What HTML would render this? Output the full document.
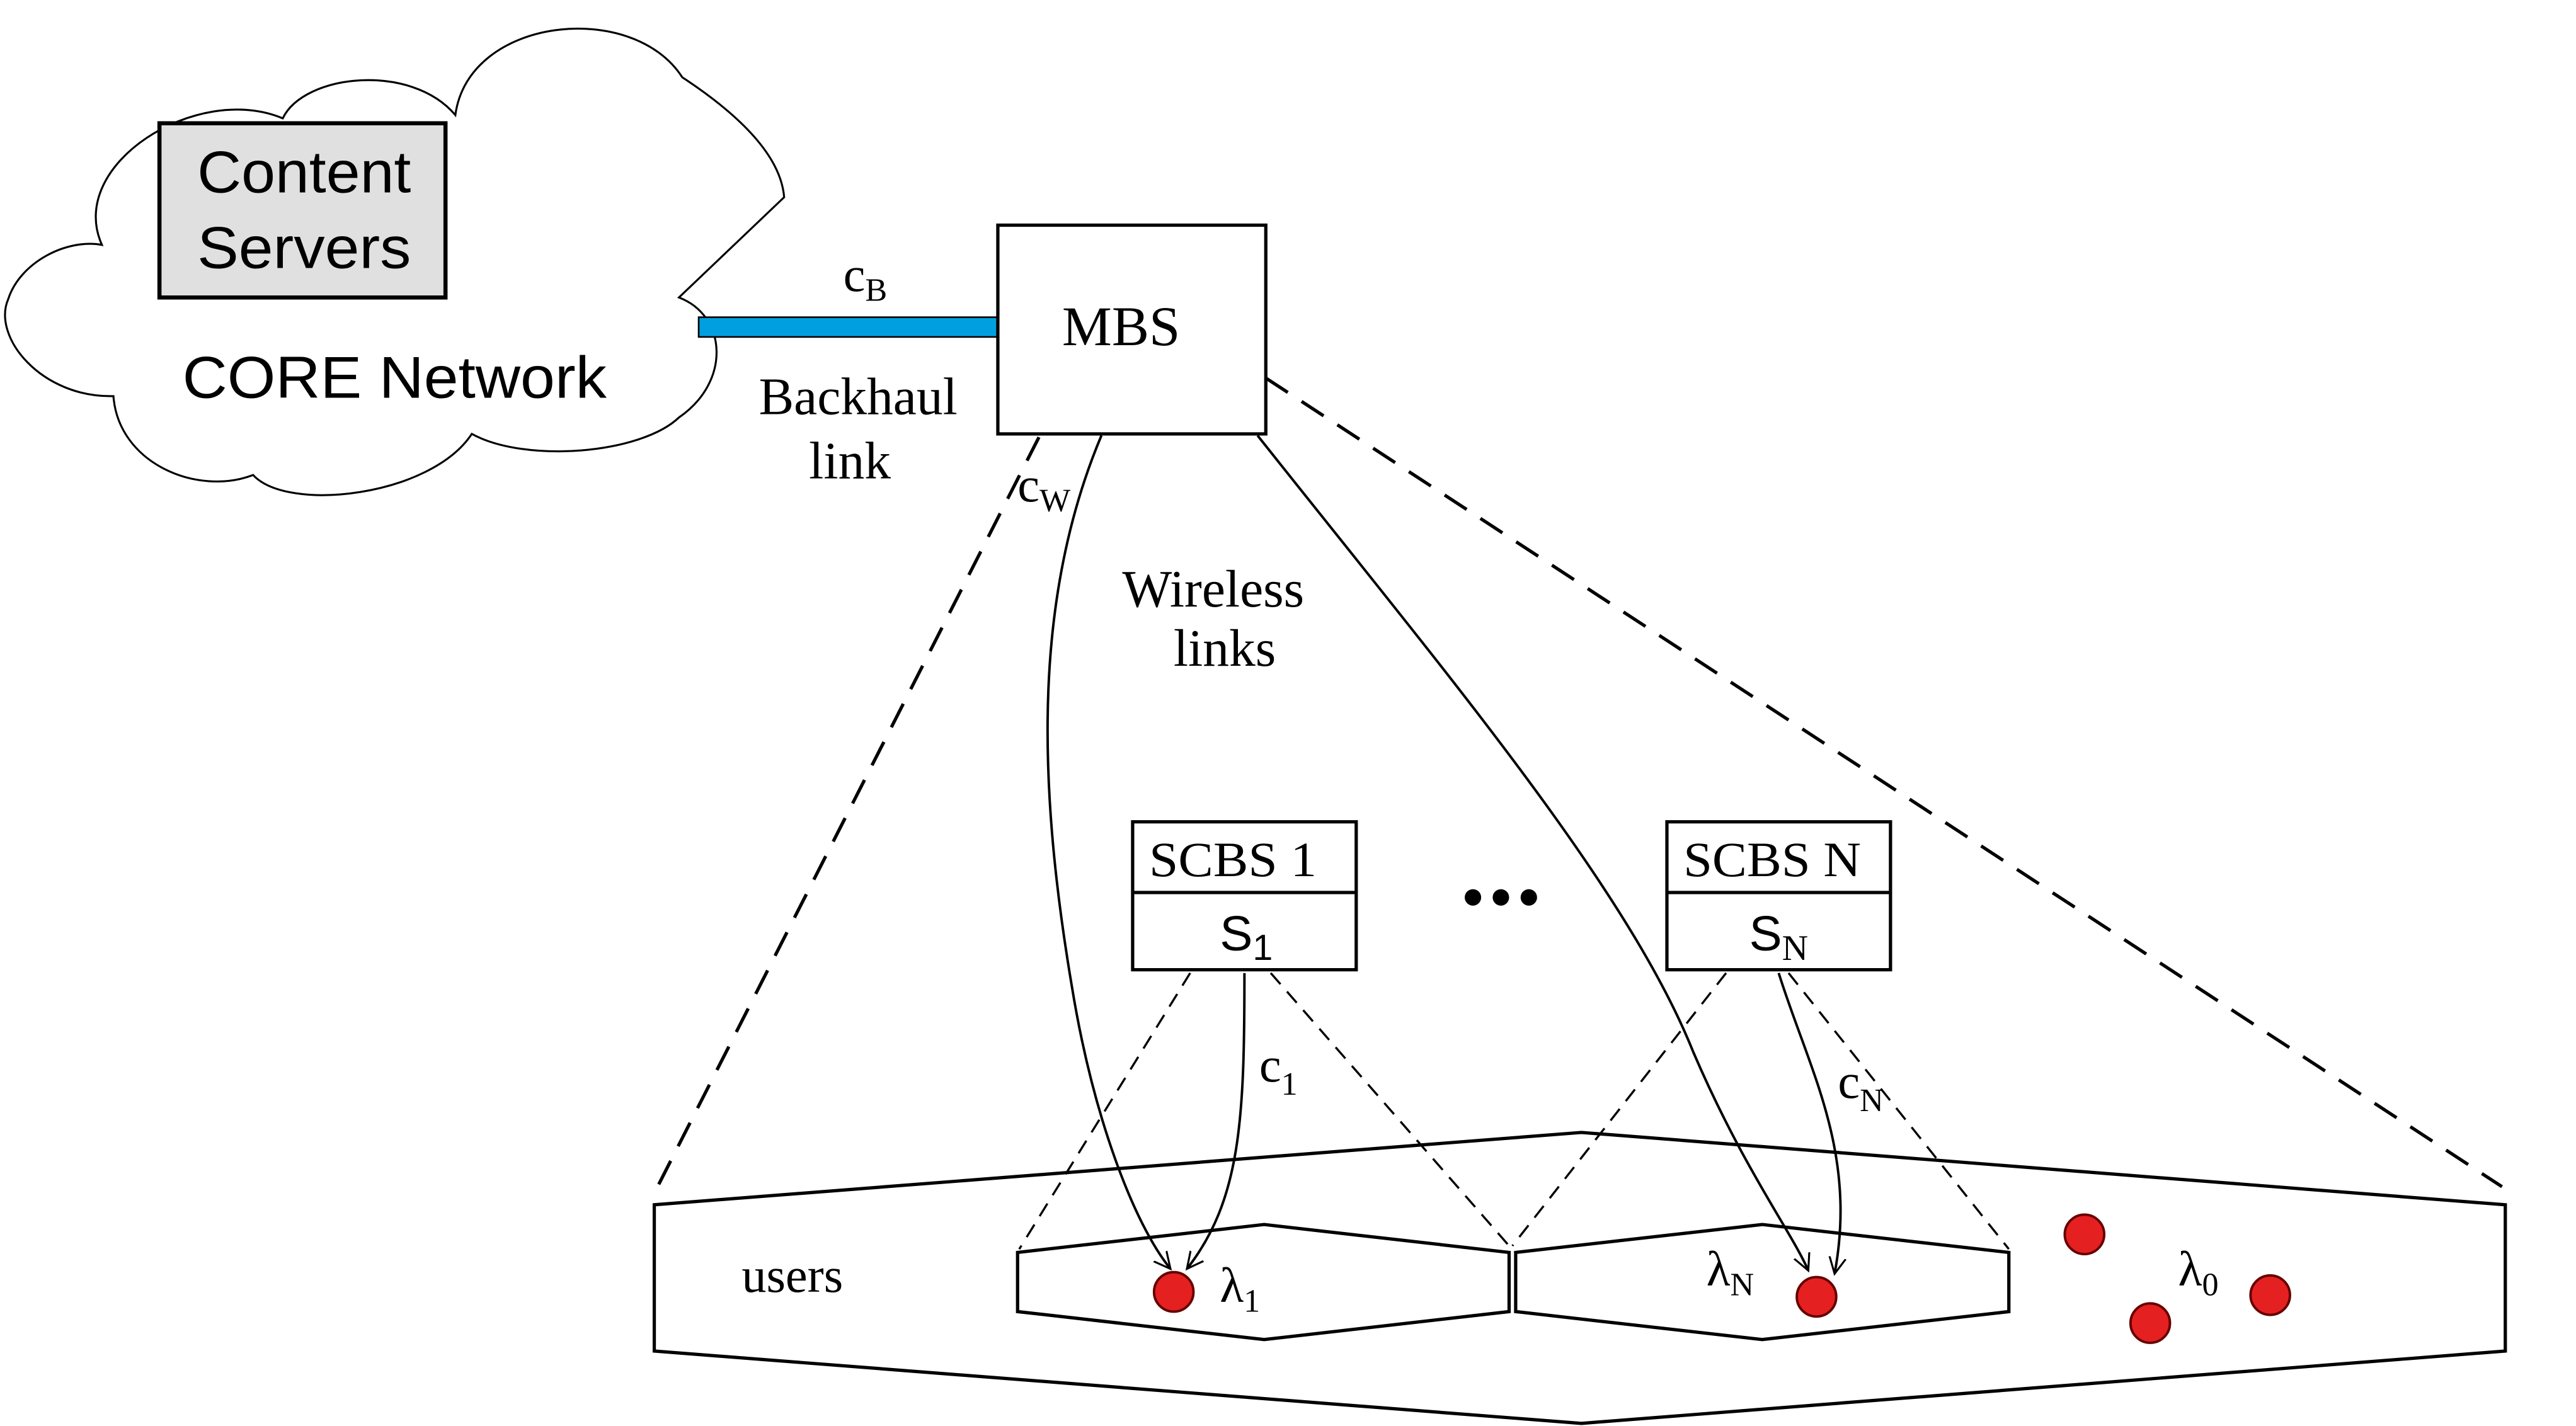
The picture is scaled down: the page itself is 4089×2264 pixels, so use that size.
<!DOCTYPE html>
<html><head><meta charset="utf-8"><style>
html,body{margin:0;padding:0;background:#fff;}
svg{display:block;}
.sans{font-family:"Liberation Sans",sans-serif;}
.serif{font-family:"Liberation Serif",serif;}
</style></head><body>
<svg width="4089" height="2264" viewBox="0 0 1567 867.6" preserveAspectRatio="none" xmlns="http://www.w3.org/2000/svg">
<defs>
<marker id="ah" markerWidth="12" markerHeight="12" refX="10" refY="6" orient="auto" markerUnits="userSpaceOnUse">
<path d="M0,1 L10,6 L0,11" fill="none" stroke="#000" stroke-width="1.2"/>
</marker>
</defs>
<rect width="1567" height="868" fill="#fff"/>
<!-- cloud -->
<path d="M62,149 C40,100 120,50 172,72 C185,45 250,38 277,70 C285,10 385,0 415,47 C450,70 475,95 477,120 L413,181 C442,192 445,232 413,254 C390,276 320,282 287,264 C262,302 175,312 154,289 C120,302 72,282 69,241 C25,242 -5,205 5,182 C12,160 40,145 62,149 Z" fill="#fff" stroke="#000" stroke-width="1.2"/>
<rect x="97" y="75" width="174" height="106" fill="#e0e0e0" stroke="#000" stroke-width="2.5"/>
<text class="sans" x="185" y="117" font-size="36" text-anchor="middle" textLength="130" lengthAdjust="spacingAndGlyphs">Content</text>
<text class="sans" x="185" y="163" font-size="36" text-anchor="middle" textLength="130" lengthAdjust="spacingAndGlyphs">Servers</text>
<text class="sans" x="240" y="242" font-size="36" text-anchor="middle" textLength="258" lengthAdjust="spacingAndGlyphs">CORE Network</text>
<!-- backhaul -->
<rect x="425" y="193" width="182" height="12" fill="#00a0e0" stroke="#000" stroke-width="1"/>
<text class="serif" x="513" y="177" font-size="30">c<tspan font-size="20" dy="6">B</tspan></text>
<text class="serif" x="522" y="252" font-size="32" text-anchor="middle">Backhaul</text>
<text class="serif" x="517" y="291" font-size="32" text-anchor="middle">link</text>
<!-- MBS -->
<rect x="607" y="137" width="163" height="127" fill="#fff" stroke="#000" stroke-width="2"/>
<text class="serif" x="682" y="210" font-size="34" text-anchor="middle">MBS</text>
<!-- big dashed -->
<line x1="632" y1="266" x2="400" y2="722" stroke="#000" stroke-width="2" stroke-dasharray="16,10"/>
<line x1="770" y1="230" x2="1522" y2="722" stroke="#000" stroke-width="2" stroke-dasharray="16,10"/>
<text class="serif" x="619" y="305" font-size="30">c<tspan font-size="20" dy="6">W</tspan></text>
<text class="serif" x="738" y="369" font-size="32" text-anchor="middle">Wireless</text>
<text class="serif" x="745" y="405" font-size="32" text-anchor="middle">links</text>
<!-- hexagons -->
<polygon points="398,733 962,689 1524,733 1524,822 962,866 398,822" fill="none" stroke="#000" stroke-width="2"/>
<polygon points="619,762 769,745 918,762 918,798 769,815 619,798" fill="#fff" stroke="#000" stroke-width="2"/>
<polygon points="922,762 1072,745 1222,762 1222,798 1072,815 922,798" fill="#fff" stroke="#000" stroke-width="2"/>
<!-- SCBS boxes -->
<rect x="689" y="500" width="136" height="90" fill="#fff" stroke="#000" stroke-width="2"/>
<line x1="689" y1="543" x2="825" y2="543" stroke="#000" stroke-width="2"/>
<text class="serif" x="750" y="533" font-size="30" text-anchor="middle" textLength="102" lengthAdjust="spacingAndGlyphs">SCBS 1</text>
<text class="sans" x="742" y="578" font-size="30">S<tspan font-size="22" dy="6">1</tspan></text>
<rect x="1014" y="500" width="136" height="90" fill="#fff" stroke="#000" stroke-width="2"/>
<line x1="1014" y1="543" x2="1150" y2="543" stroke="#000" stroke-width="2"/>
<text class="serif" x="1078" y="533" font-size="30" text-anchor="middle" textLength="108" lengthAdjust="spacingAndGlyphs">SCBS N</text>
<text class="sans" x="1064" y="578" font-size="30">S<tspan class="serif" font-size="22" dy="6">N</tspan></text>
<circle cx="896" cy="546" r="5" fill="#000"/><circle cx="913" cy="546" r="5" fill="#000"/><circle cx="930" cy="546" r="5" fill="#000"/>
<!-- small dashed -->
<g stroke="#000" stroke-width="1.3" stroke-dasharray="9,6" fill="none">
<line x1="724" y1="592" x2="620" y2="760"/>
<line x1="773" y1="592" x2="918" y2="758"/>
<line x1="1050" y1="592" x2="920" y2="758"/>
<line x1="1088" y1="592" x2="1222" y2="760"/>
</g>
<!-- arrows -->
<g stroke="#000" stroke-width="1.5" fill="none" marker-end="url(#ah)">
<path d="M670,265 C630,360 630,470 652,600 C665,680 690,745 712,772"/>
<path d="M765,265 C880,410 990,540 1030,640 C1060,710 1090,750 1100,773"/>
<path d="M757,592 C757,680 755,730 722,772"/>
<path d="M1082,592 C1100,650 1130,700 1116,775"/>
</g>
<text class="serif" x="766" y="658" font-size="30">c<tspan font-size="20" dy="8">1</tspan></text>
<text class="serif" x="1118" y="668" font-size="30">c<tspan font-size="20" dy="8">N</tspan></text>
<!-- users -->
<g fill="#e52020" stroke="#600" stroke-width="1.5">
<circle cx="714" cy="786" r="12"/>
<circle cx="1105" cy="789" r="12"/>
<circle cx="1268" cy="751" r="12"/>
<circle cx="1308" cy="805" r="12"/>
<circle cx="1381" cy="788" r="12"/>
</g>
<text class="serif" x="742" y="792" font-size="30">λ<tspan font-size="20" dy="6">1</tspan></text>
<text class="serif" x="1038" y="782" font-size="30">λ<tspan font-size="20" dy="6">N</tspan></text>
<text class="serif" x="1325" y="782" font-size="30">λ<tspan font-size="20" dy="6">0</tspan></text>
<text class="serif" x="482" y="786" font-size="30" text-anchor="middle">users</text>
</svg>
</body></html>
